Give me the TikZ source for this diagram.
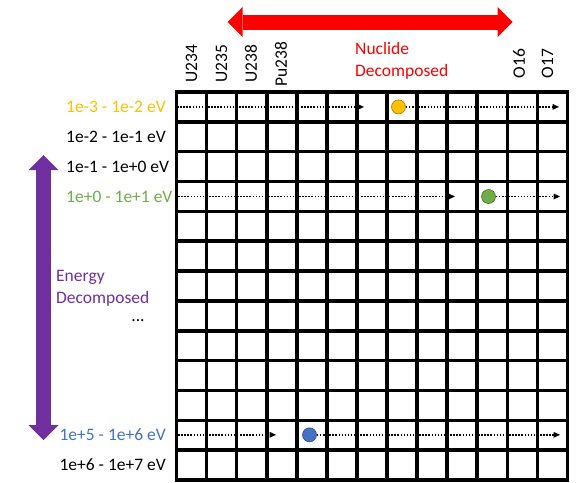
\documentclass[tikz,border=0pt]{standalone}
\usepackage{fontspec}
\setmainfont{Carlito}
\usetikzlibrary{arrows.meta}

\definecolor{nucred}{HTML}{FF0000}
\definecolor{engpurple}{HTML}{7030A0}
\definecolor{lowyellow}{HTML}{FFC000}
\definecolor{midgreen}{HTML}{70AD47}
\definecolor{highblue}{HTML}{4472C4}

\begin{document}
\begin{tikzpicture}[x=1pt,y=1pt,
    every node/.style={font=\fontsize{17.5}{22}\selectfont, inner sep=0pt},
    collbl/.style={rotate=90},
    marker/.style={circle, draw=#1!65!black, fill=#1, line width=0.6pt, minimum size=14pt},
    track/.style={line width=1.5pt, dash pattern=on 1.5pt off 1.6pt,
        -{Triangle[length=6.5pt,width=6pt,line width=0pt]}},
    bigarrow/.style={line width=15pt,
        {Triangle[length=15pt,width=30pt,line width=0pt]}-{Triangle[length=15pt,width=30pt,line width=0pt]}}]
    \def\DX{30.077}
    \def\DY{29.846}

    \useasboundingbox[fill=white] (0,0) rectangle (577,-482);

    % cross-section table
    \begin{scope}[shift={(176.5,-480)}]
        \draw[line width=3.6pt] (0,0) grid[xstep=\DX pt, ystep=\DY pt] (391,388);
        \draw[line width=3.6pt] (0,0) rectangle (391,388);
    \end{scope}

    % nuclide axis
    \coordinate (nucL) at (227.5,-22);
    \coordinate (nucR) at (512.5,-22);
    \draw[bigarrow, nucred] (nucL) -- (nucR);
    \node[anchor=west, align=left, text=nucred] (nuctxt) at (355,-60.5) {Nuclide\\Decomposed};

    \node[collbl] (u234)  at (191.5,-63.5) {U234};
    \node[collbl] (u235)  at (221.5,-63.5) {U235};
    \node[collbl] (u238)  at (251,-63.5) {U238};
    \node[collbl] (pu238) at (281,-64.5) {Pu238};
    \node[collbl] (o16)   at (519,-63.5) {O16};
    \node[collbl] (o17)   at (547.5,-63.5) {O17};

    % energy axis
    \coordinate (engT) at (43.5,-155);
    \coordinate (engB) at (43.5,-440);
    \draw[bigarrow, engpurple] (engT) -- (engB);
    \node[anchor=west, align=left, text=engpurple] (engtxt) at (56,-288) {Energy\\Decomposed};
    \node[anchor=base] (skip) at (138,-321) {...};

    \node[anchor=west, text=lowyellow] (g1) at (66,-106.9) {1e-3 - 1e-2 eV};
    \node[anchor=west] (g2) at (66,-136.8) {1e-2 - 1e-1 eV};
    \node[anchor=west] (g3) at (66,-166.6) {1e-1 - 1e+0 eV};
    \node[anchor=west, text=midgreen] (g4) at (66,-196.5) {1e+0 - 1e+1 eV};
    \node[anchor=east, text=highblue] (g12) at (166,-434.8) {1e+5 - 1e+6 eV};
    \node[anchor=east] (g13) at (166,-464.6) {1e+6 - 1e+7 eV};

    % sweeps along the rows
    \node[marker=lowyellow] (hitA) at (398.5,-106.9) {};
    \coordinate (trkA0) at (177,-106.9);
    \coordinate (trkA1) at (364,-106.9);
    \coordinate (trkA2) at (559,-106.9);
    \draw[track] (trkA0) -- (trkA1);
    \draw[track] (hitA) -- (trkA2);

    \node[marker=midgreen] (hitB) at (488.5,-196.5) {};
    \coordinate (trkB0) at (175,-196.5);
    \coordinate (trkB1) at (455,-196.5);
    \coordinate (trkB2) at (560,-196.5);
    \draw[track] (trkB0) -- (trkB1);
    \draw[track] (hitB) -- (trkB2);

    \node[marker=highblue] (hitC) at (309.5,-434.8) {};
    \coordinate (trkC0) at (178,-434.8);
    \coordinate (trkC1) at (276,-434.8);
    \coordinate (trkC2) at (560,-434.8);
    \draw[track] (trkC0) -- (trkC1);
    \draw[track] (hitC) -- (trkC2);
\end{tikzpicture}
\end{document}
